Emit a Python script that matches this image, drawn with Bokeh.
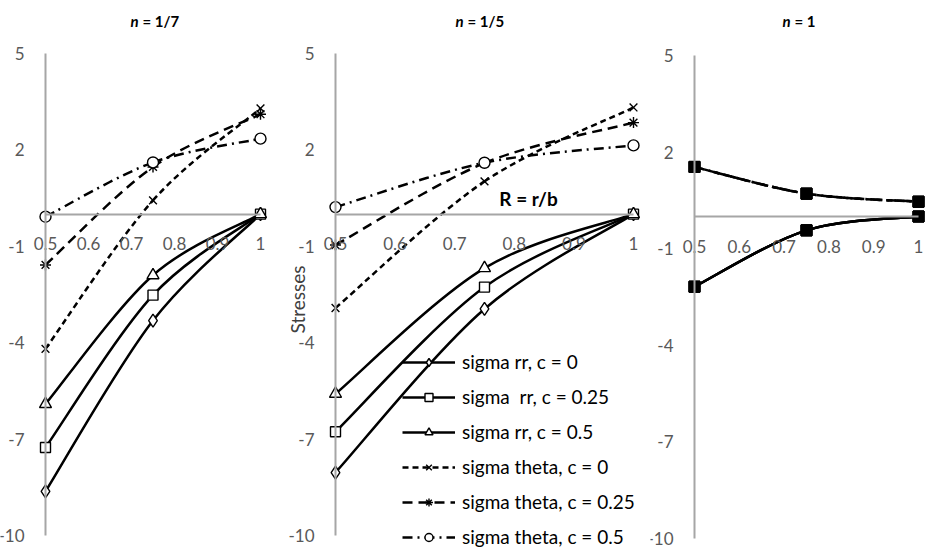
import numpy as np
from bokeh.plotting import figure
from bokeh.models import (LinearAxis, FixedTicker, Label, Legend, LegendItem,
                          ColumnDataSource)
from bokeh.layouts import row
from bokeh.embed import file_html
from bokeh.resources import INLINE

# ---------------- data ----------------
r_values = [0.5, 0.75, 1.0]

series_labels = ["sigma rr, c = 0", "sigma  rr, c = 0.25", "sigma rr, c = 0.5",
                 "sigma theta, c = 0", "sigma theta, c = 0.25", "sigma theta, c = 0.5"]

panel_titles = ["1/7", "1/5", "1"]

# n = 1/7
n7_rr_c0 = [-8.63, -3.31, 0.0]
n7_rr_c25 = [-7.26, -2.52, 0.0]
n7_rr_c50 = [-5.91, -1.90, 0.0]
n7_th_c0 = [-4.19, 0.43, 3.29]
n7_th_c25 = [-1.58, 1.47, 3.11]
n7_th_c50 = [-0.08, 1.61, 2.35]

# n = 1/5
n5_rr_c0 = [-8.04, -2.95, 0.0]
n5_rr_c25 = [-6.77, -2.27, 0.0]
n5_rr_c50 = [-5.59, -1.68, 0.0]
n5_th_c0 = [-2.92, 1.02, 3.32]
n5_th_c25 = [-0.96, 1.59, 2.85]
n5_th_c50 = [0.22, 1.60, 2.14]

# n = 1
n1_rr_c0 = [-2.18, -0.43, 0.0]
n1_rr_c25 = [-2.18, -0.43, 0.0]
n1_rr_c50 = [-2.18, -0.43, 0.0]
n1_th_c0 = [1.54, 0.71, 0.46]
n1_th_c25 = [1.54, 0.71, 0.46]
n1_th_c50 = [1.54, 0.71, 0.46]

x_ticks = [0.5, 0.6, 0.7, 0.8, 0.9, 1.0]
x_tick_labels = ["0.5", "0.6", "0.7", "0.8", "0.9", "1"]
y_ticks = [-10, -7, -4, -1, 2, 5]
y_tick_labels = ["-10", "-7", "-4", "-1", "2", "5"]

panels = [
    [n7_rr_c0, n7_rr_c25, n7_rr_c50, n7_th_c0, n7_th_c25, n7_th_c50],
    [n5_rr_c0, n5_rr_c25, n5_rr_c50, n5_th_c0, n5_th_c25, n5_th_c50],
    [n1_rr_c0, n1_rr_c25, n1_rr_c50, n1_th_c0, n1_th_c25, n1_th_c50],
]

# ---------------- styles / layout ----------------
FONT = "Lato"
H = 549
dashes = ["solid", "solid", "solid", "6 4", "10 6", "10 5 2 5"]
markers = ["diamond", "square", "triangle", "x", "asterisk", "circle"]
msizes = [13, 10, 12, 11, 11, 11]

# page-pixel anchors for each panel
geom = [
    dict(left=0, width=285, x05=45, x1=260, y5=53, ym10=535, title_px=152),
    dict(left=285, width=365, x05=335, x1=633, y5=53, ym10=535, title_px=477),
    dict(left=650, width=275, x05=694, x1=918, y5=55, ym10=538, title_px=800),
]
TITLE_Y_PX = 20


def px_to_x(g, px):
    s = 0.5 / (g["x1"] - g["x05"])
    return 0.5 + (px - g["x05"]) * s


def px_to_y(g, py):
    s = 15.0 / (g["ym10"] - g["y5"])
    return 5 - (py - g["y5"]) * s


def smooth_segments(xs, ys):
    xs = np.asarray(xs, float)
    ys = np.asarray(ys, float)
    n = len(xs)
    d = {k: [] for k in ["x0", "y0", "x1", "y1", "cx0", "cy0", "cx1", "cy1"]}
    for i in range(n - 1):
        ip = i - 1 if i > 0 else i
        inx = i + 2 if i + 2 < n else i + 1
        d["x0"].append(xs[i]); d["y0"].append(ys[i])
        d["x1"].append(xs[i + 1]); d["y1"].append(ys[i + 1])
        d["cx0"].append(xs[i] + (xs[i + 1] - xs[ip]) / 6.0)
        d["cy0"].append(ys[i] + (ys[i + 1] - ys[ip]) / 6.0)
        d["cx1"].append(xs[i + 1] - (xs[inx] - xs[i]) / 6.0)
        d["cy1"].append(ys[i + 1] - (ys[inx] - ys[i]) / 6.0)
    return d


def make_panel(k):
    g = geom[k]
    L, W = g["left"], g["width"]
    xr = (px_to_x(g, L), px_to_x(g, L + W))
    yr = (px_to_y(g, H), px_to_y(g, 0))
    p = figure(width=W, height=H, x_range=xr, y_range=yr,
               output_backend="svg", toolbar_location=None,
               x_axis_type=None, y_axis_type=None,
               min_border_left=0, min_border_right=0,
               min_border_top=0, min_border_bottom=0)
    p.outline_line_color = None
    p.background_fill_color = "white"
    p.border_fill_color = "white"

    yaxis = LinearAxis(ticker=FixedTicker(ticks=y_ticks), bounds=(-10, 5),
                       fixed_location=0.5,
                       major_label_overrides=dict(zip(y_ticks, y_tick_labels)))
    xaxis = LinearAxis(ticker=FixedTicker(ticks=x_ticks), bounds=(0.5, 1.0),
                       fixed_location=0,
                       major_label_overrides=dict(zip(x_ticks, x_tick_labels)))
    for ax in (xaxis, yaxis):
        ax.axis_line_color = "#a6a6a6"
        ax.axis_line_width = 2
        ax.major_tick_line_color = None
        ax.minor_tick_line_color = None
        ax.major_label_text_font = FONT
        ax.major_label_text_font_size = "17px"
        ax.major_label_text_color = "#595959"
    yaxis.major_label_standoff = 15
    xaxis.major_label_standoff = 17
    p.add_layout(yaxis, "left")
    p.add_layout(xaxis, "below")

    items = []
    for i, ys in enumerate(panels[k]):
        src = ColumnDataSource(smooth_segments(r_values, ys))
        br = p.bezier(x0="x0", y0="y0", x1="x1", y1="y1", cx0="cx0", cy0="cy0",
                      cx1="cx1", cy1="cy1", source=src, line_color="black",
                      line_width=2.5, line_dash=dashes[i])
        if k == 2:
            sr = p.scatter(r_values, ys, marker="square", size=11, line_color="black",
                           fill_color="black", line_width=1)
        else:
            sr = p.scatter(r_values, ys, marker=markers[i], size=msizes[i],
                           line_color="black", fill_color="white", line_width=1.4)
        items.append(LegendItem(label=series_labels[i], renderers=[br, sr]))

    tx = px_to_x(g, g["title_px"])
    ty = px_to_y(g, TITLE_Y_PX)
    half = 12 if len(panel_titles[k]) > 1 else 8
    p.add_layout(Label(x=tx, y=ty, text="n", x_offset=-half - 2,
                       text_font=FONT, text_font_style="bold italic",
                       text_font_size="15px", text_align="right",
                       text_baseline="middle", text_color="black"))
    p.add_layout(Label(x=tx, y=ty, text="= " + panel_titles[k], x_offset=-half + 2,
                       text_font=FONT, text_font_style="bold",
                       text_font_size="15px", text_align="left",
                       text_baseline="middle", text_color="black"))
    return p, items


p1, _ = make_panel(0)
p2, items2 = make_panel(1)
p3, _ = make_panel(2)

g2 = geom[1]
legend = Legend(items=items2, location=(402 - g2["left"], 1), orientation="vertical",
                glyph_width=53, glyph_height=20, label_height=20, spacing=12,
                label_standoff=7, padding=0, margin=0,
                background_fill_alpha=0, border_line_alpha=0,
                label_text_font=FONT, label_text_font_size="19px",
                label_text_color="black")
p2.add_layout(legend)

p2.add_layout(Label(x=px_to_x(g2, 297), y=px_to_y(g2, 299), text="Stresses",
                    angle=np.pi / 2, text_font=FONT, text_font_size="19px",
                    text_color="#404040", text_align="center", text_baseline="middle"))
p2.add_layout(Label(x=px_to_x(g2, 528), y=px_to_y(g2, 198), text="R = r/b",
                    text_font=FONT, text_font_style="bold", text_font_size="19px",
                    text_color="black", text_align="center", text_baseline="middle"))

layout = row(p1, p2, p3)
open("out.html", "w").write(file_html(layout, INLINE))
